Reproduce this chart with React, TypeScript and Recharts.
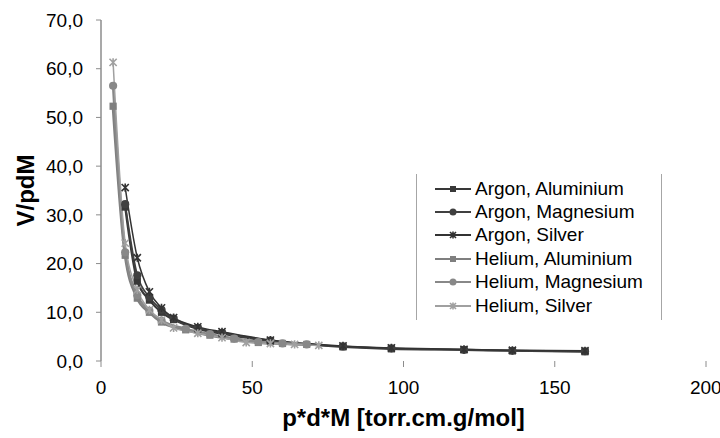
import React from "react";
import { LineChart, Line, XAxis, YAxis, Label } from "recharts";

// x ticks / y ticks
const xTicks = [0, 50, 100, 150, 200];
const yTicks = [0, 10, 20, 30, 40, 50, 60, 70];

// Argon runs (p*d*M values and V/pdM)
const argonX = [8, 12, 16, 20, 24, 32, 40, 56, 80, 96, 120, 136, 160];
const argonAluminium = [31.6, 16.4, 12.5, 10.0, 8.5, 6.6, 5.6, 4.1, 2.9, 2.5, 2.3, 2.1, 1.9];
const argonMagnesium = [32.2, 17.6, 13.1, 10.5, 8.7, 6.8, 5.8, 4.2, 3.0, 2.6, 2.3, 2.1, 2.0];
const argonSilver = [35.6, 21.2, 14.2, 10.9, 8.9, 7.0, 6.0, 4.3, 3.1, 2.7, 2.4, 2.2, 2.1];

// Helium runs
const heliumX = [4, 8, 12, 16, 20, 28, 36, 44, 52, 60, 68];
const heliumAluminium = [52.3, 21.7, 12.9, 10.0, 8.0, 6.4, 5.3, 4.5, 3.8, 3.6, 3.4];
const heliumMagnesium = [56.5, 22.3, 13.5, 10.3, 8.3, 6.6, 5.5, 4.6, 3.9, 3.6, 3.4];
const heliumSilverX = [4, 8, 12, 16, 20, 24, 32, 40, 48, 56, 64, 72];
const heliumSilver = [61.3, 24.2, 14.6, 10.5, 8.4, 6.8, 5.7, 4.8, 3.8, 3.6, 3.4, 3.2];

type Shape = "square" | "circle" | "star";

interface Series {
  name: string;
  data: { x: number; y: number }[];
  shape: Shape;
  color: string;
  width: number;
}

const zip = (xs: number[], ys: number[]) => xs.map((x, i) => ({ x, y: ys[i] }));

const series: Series[] = [
  { name: "Argon, Aluminium", data: zip(argonX, argonAluminium), shape: "square", color: "#383838", width: 2.2 },
  { name: "Argon, Magnesium", data: zip(argonX, argonMagnesium), shape: "circle", color: "#404040", width: 1.8 },
  { name: "Argon, Silver", data: zip(argonX, argonSilver), shape: "star", color: "#333333", width: 1.5 },
  { name: "Helium, Aluminium", data: zip(heliumX, heliumAluminium), shape: "square", color: "#7f7f7f", width: 3 },
  { name: "Helium, Magnesium", data: zip(heliumX, heliumMagnesium), shape: "circle", color: "#888888", width: 2.5 },
  { name: "Helium, Silver", data: zip(heliumSilverX, heliumSilver), shape: "star", color: "#a0a0a0", width: 1.5 },
];

const FONT = "'Liberation Sans', Arial, sans-serif";

const Marker = ({ shape, cx, cy, color, r }: { shape: Shape; cx: number; cy: number; color: string; r: number }) => {
  if (shape === "square") {
    return <rect x={cx - r} y={cy - r} width={r * 2} height={r * 2} fill={color} />;
  }
  if (shape === "circle") {
    return <circle cx={cx} cy={cy} r={r + 0.5} fill={color} />;
  }
  return (
    <path
      d={`M${cx - r},${cy - r}L${cx + r},${cy + r}M${cx + r},${cy - r}L${cx - r},${cy + r}M${cx},${cy - r - 0.5}L${cx},${cy + r + 0.5}`}
      stroke={color}
      strokeWidth={1.6}
      fill="none"
    />
  );
};

const makeDot = (s: Series) => (p: any) => {
  if (p.cx == null || p.cy == null) return <g key={p.index} />;
  return (
    <g key={`${s.name}-${p.index}`}>
      <Marker shape={s.shape} cx={p.cx} cy={p.cy} color={s.color} r={3.6} />
    </g>
  );
};

const fmt = (v: number) => v.toFixed(1).replace(".", ",");

const ChartLegend = () => (
  <div
    style={{
      position: "absolute",
      left: 416,
      top: 174,
      width: 246,
      height: 146,
      borderLeft: "1px solid #a6a6a6",
      borderRight: "1px solid #a6a6a6",
      boxSizing: "border-box",
      paddingTop: 3,
    }}
  >
    {series.map((s) => (
      <div key={s.name} style={{ display: "flex", alignItems: "center", height: 23.4 }}>
        <svg width={36} height={14} style={{ marginLeft: 18, marginRight: 4 }}>
          <line x1={0} y1={7} x2={36} y2={7} stroke={s.color} strokeWidth={2} />
          <Marker shape={s.shape} cx={18} cy={7} color={s.color} r={3} />
        </svg>
        <span style={{ fontFamily: FONT, fontSize: 19, color: "#000", lineHeight: "20px" }}>{s.name}</span>
      </div>
    ))}
  </div>
);

export default function App() {
  return (
    <div style={{ position: "absolute", left: 0, top: 0, width: 720, height: 438, background: "#fff" }}>
      <LineChart width={720} height={438} margin={{ top: 20, right: 14, bottom: 0, left: 0 }}>
        <XAxis
          type="number"
          dataKey="x"
          domain={[0, 200]}
          ticks={xTicks}
          axisLine={false}
          tickLine={{ stroke: "#8c8c8c" }}
          tickSize={6}
          tickMargin={14}
          height={77}
          tick={{ fill: "#000", fontSize: 19, fontFamily: FONT }}
        >
          <Label
            value="p*d*M [torr.cm.g/mol]"
            position="insideBottom"
            offset={12}
            style={{ fontFamily: FONT, fontSize: 24, fontWeight: 700, fill: "#000" }}
          />
        </XAxis>
        <YAxis
          type="number"
          dataKey="y"
          domain={[0, 70]}
          ticks={yTicks}
          tickFormatter={fmt}
          width={101}
          axisLine={{ stroke: "#8c8c8c", strokeWidth: 1.5 }}
          tickLine={{ stroke: "#8c8c8c" }}
          tickSize={5}
          tickMargin={13}
          tick={{ fill: "#000", fontSize: 19, fontFamily: FONT }}
        >
          <Label
            content={(p: any) => {
              const vb = p.viewBox;
              const cx = vb.x + 25;
              const cy = vb.y + vb.height / 2;
              return (
                <text
                  x={cx}
                  y={cy}
                  transform={`rotate(-90, ${cx}, ${cy})`}
                  textAnchor="middle"
                  dominantBaseline="central"
                  style={{ fontFamily: FONT, fontSize: 24, fontWeight: 700, fill: "#000" }}
                >
                  V/pdM
                </text>
              );
            }}
          />
        </YAxis>
        {series.map((s) => (
          <Line
            key={s.name}
            data={s.data}
            dataKey="y"
            name={s.name}
            type="monotone"
            stroke={s.color}
            strokeWidth={s.width}
            dot={makeDot(s)}
            activeDot={false}
            isAnimationActive={false}
          />
        ))}
      </LineChart>
      <ChartLegend />
    </div>
  );
}
